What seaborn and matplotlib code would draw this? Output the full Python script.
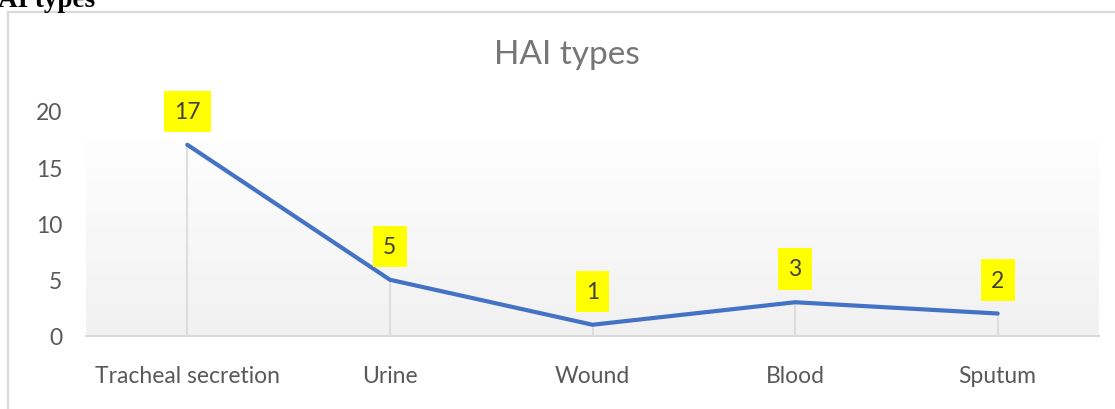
import numpy as np
import pandas as pd
import matplotlib
matplotlib.use("Agg")
import matplotlib.pyplot as plt
from matplotlib.patches import Rectangle
import seaborn as sns

categories = ["Tracheal secretion", "Urine", "Wound", "Blood", "Sputum"]
counts = [17, 5, 1, 3, 2]
y_ticks = [0, 5, 10, 15, 20]
title = "HAI types"
caption = "AI types"

sns.set_theme(style="white")
plt.rcParams["font.family"] = ["Lato", "DejaVu Sans"]

W, H = 1115, 410
fig = plt.figure(figsize=(W / 100, H / 100), dpi=100)
ax = fig.add_axes([86 / W, (H - 337) / H, (1099 - 86) / W, (337 - 112) / H])

df = pd.DataFrame({"type": categories, "count": counts})
pos = np.arange(len(categories))

# gradient background
grad = np.linspace(1.0, 0.0, 256).reshape(-1, 1)
top_c = np.array([0.995, 0.995, 0.995])
bot_c = np.array([0.945, 0.945, 0.945])
img = grad[..., None] * top_c + (1 - grad[..., None]) * bot_c
ax.imshow(img, extent=[-0.5, len(categories) - 0.5, 0, 17.4], aspect="auto",
          zorder=0, origin="upper")

# drop lines
ax.vlines(pos, 0, counts, color="#d9d9d9", lw=1.2, zorder=1)

sns.lineplot(data=df, x="type", y="count", sort=False, ax=ax, color="#4472C4",
             lw=3.0, zorder=3, solid_capstyle="round")

for i, v in enumerate(counts):
    ax.annotate(str(v), (i, v), xytext=(0, 24), textcoords="offset points",
                ha="center", va="center", fontsize=16.5, color="#404040",
                bbox=dict(boxstyle="square,pad=0.45", fc="#ffff00", ec="none"),
                zorder=4)

ax.set_xlim(-0.5, len(categories) - 0.5)
ax.set_ylim(0, 20)
ax.set_yticks(y_ticks)
ax.set_xticks(pos)
ax.set_xticklabels(categories)
ax.set_xlabel("")
ax.set_ylabel("")
ax.tick_params(axis="y", length=0, pad=17, labelsize=16.5, labelcolor="#595959")
ax.tick_params(axis="x", length=0, pad=21, labelsize=16.5, labelcolor="#595959")
for s in ["top", "right", "left"]:
    ax.spines[s].set_visible(False)
ax.spines["bottom"].set_color("#d9d9d9")
ax.spines["bottom"].set_linewidth(1.5)
ax.set_facecolor("none")
ax.grid(False)

fig.text(567 / W, 1 - 55 / H, title, ha="center", va="center", fontsize=24,
         color="#767676")

# outer frame
fig.add_artist(Rectangle((7.5 / W, -0.1), 1.2, 1 - 13 / H + 0.1,
                         transform=fig.transFigure, fill=False,
                         edgecolor="#d9d9d9", lw=1.6))

fig.text(-2 / W, 1 - 7 / H, caption, ha="left", va="baseline", fontsize=19.5,
         fontweight="bold", family="Liberation Serif", color="black")

fig.savefig("out.png", dpi=100)
